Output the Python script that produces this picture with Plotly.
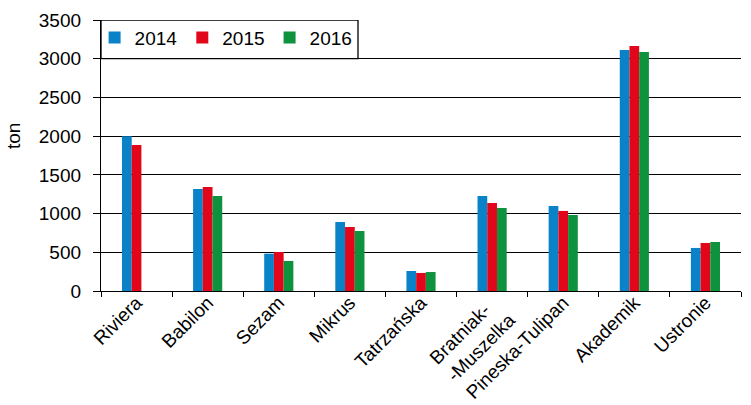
import plotly.graph_objects as go

categories = ["Riviera", "Babilon", "Sezam", "Mikrus", "Tatrzańska",
              "Bratniak-&nbsp;&nbsp;<br>-Muszelka", "Pineska-Tulipan", "Akademik", "Ustronie"]
years = ["2014", "2015", "2016"]
v2014 = [2000, 1318, 482, 891, 258, 1227, 1098, 3114, 556]
v2015 = [1886, 1344, 504, 827, 233, 1137, 1034, 3165, 620]
v2016 = [None, 1227, 388, 775, 245, 1072, 982, 3088, 633]
colors = ["#0a82c8", "#e2061b", "#0e923e"]
y_ticks = [0, 500, 1000, 1500, 2000, 2500, 3000, 3500]
y_title = "ton"

FONT = "Liberation Sans, Arial, sans-serif"
FS = 19

fig = go.Figure()
for name, vals, col in zip(years, [v2014, v2015, v2016], colors):
    fig.add_trace(go.Bar(x=categories, y=vals, name=name, marker_color=col,
                         marker_line_width=0))

fig.update_layout(
    width=751, height=405,
    margin=dict(l=101, r=10, t=20, b=114, autoexpand=False),
    paper_bgcolor="white", plot_bgcolor="white",
    barmode="group", bargap=0.59, bargroupgap=0,
    font=dict(family=FONT, size=FS, color="black"),
    showlegend=True,
    legend=dict(orientation="h", x=-0.01, y=1.005, xanchor="left", yanchor="top",
                bgcolor="rgba(0,0,0,0)", borderwidth=0,
                font=dict(family=FONT, size=FS, color="black"),
                itemwidth=30, tracegroupgap=0),
    shapes=[dict(type="rect", xref="paper", yref="y", x0=0, x1=(358-101)/640,
                 y0=3000, y1=3500, line=dict(color="black", width=1.3),
                 fillcolor="white", layer="below")],
    annotations=[dict(text=y_title, xref="paper", yref="paper",
                      x=(13-101)/640, y=(291-136)/271, textangle=-90,
                      xanchor="center", yanchor="middle", showarrow=False,
                      font=dict(family=FONT, size=FS, color="black"))],
)
fig.update_xaxes(
    showline=True, linecolor="black", linewidth=1.3, automargin=False,
    ticks="outside", tickson="boundaries", ticklen=5, tickcolor="black",
    tickangle=-45, showgrid=False, ticklabelstandoff=-8,
    tickfont=dict(family=FONT, size=FS, color="black"),
)
fig.update_yaxes(
    range=[0, 3500], tickvals=y_ticks, showline=True, linecolor="black",
    linewidth=1.3, showgrid=True, gridcolor="black", gridwidth=1.3,
    ticks="outside", ticklen=7, tickcolor="black", tickwidth=1.3,
    zeroline=False, automargin=False, ticklabelstandoff=8,
    tickfont=dict(family=FONT, size=FS, color="black"),
)
fig.write_html("out.html")
